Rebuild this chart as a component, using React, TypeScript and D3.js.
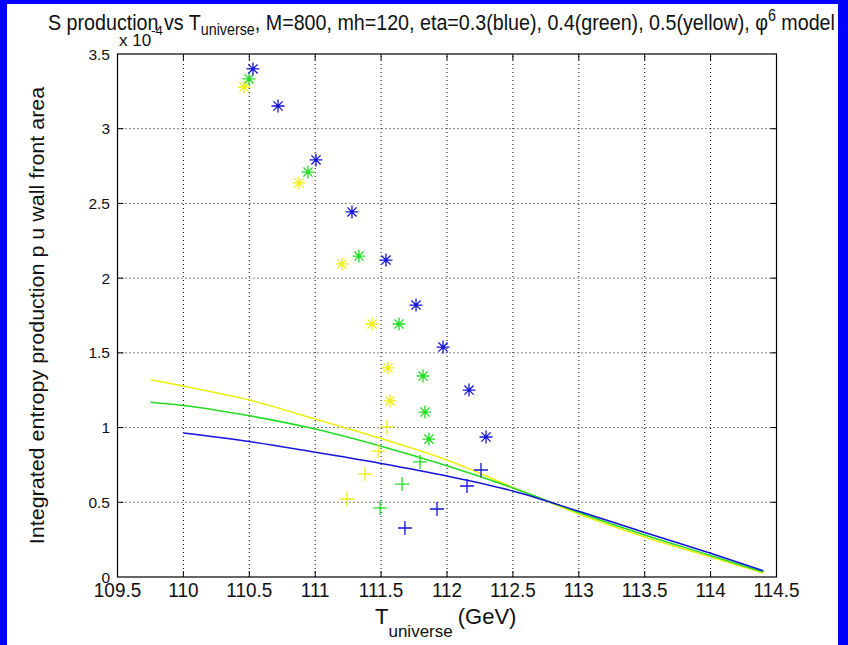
import React from "react";
import * as d3 from "d3";

const W = 848;
const H = 645;

const xTicks = [109.5, 110, 110.5, 111, 111.5, 112, 112.5, 113, 113.5, 114, 114.5];
const yTicks = [0, 0.5, 1, 1.5, 2, 2.5, 3, 3.5];
const xTickLabels = ["109.5", "110", "110.5", "111", "111.5", "112", "112.5", "113", "113.5", "114", "114.5"];
const yTickLabels = ["0", "0.5", "1", "1.5", "2", "2.5", "3", "3.5"];

// scatter points (x in GeV, y in units of 1e-4)
const blueStarX = [110.528, 110.718, 111.006, 111.279, 111.537, 111.765, 111.97, 112.167, 112.296];
const blueStarY = [3.4, 3.152, 2.791, 2.443, 2.121, 1.82, 1.539, 1.251, 0.937];
const bluePlusX = [112.258, 112.152, 111.924, 111.681];
const bluePlusY = [0.716, 0.609, 0.455, 0.328];

const greenStarX = [110.498, 110.945, 111.332, 111.636, 111.818, 111.833, 111.863];
const greenStarY = [3.333, 2.71, 2.148, 1.693, 1.345, 1.104, 0.923];
const greenPlusX = [111.795, 111.659, 111.492];
const greenPlusY = [0.77, 0.622, 0.462];

const yellowStarX = [110.46, 110.877, 111.203, 111.431, 111.552, 111.568];
const yellowStarY = [3.279, 2.637, 2.095, 1.693, 1.399, 1.178];
const yellowPlusX = [111.545, 111.477, 111.378, 111.241];
const yellowPlusY = [1.004, 0.843, 0.689, 0.522];

// curves
const blueLineX = [110, 110.5, 111, 111.5, 112, 112.5, 113, 113.5, 114, 114.4];
const blueLineY = [0.964, 0.907, 0.835, 0.76, 0.676, 0.576, 0.44, 0.298, 0.159, 0.042];
const greenLineX = [109.75, 110, 110.5, 111, 111.5, 112, 112.5, 113, 113.5, 114, 114.4];
const greenLineY = [1.17, 1.148, 1.079, 0.99, 0.875, 0.744, 0.596, 0.432, 0.281, 0.144, 0.033];
const yellowLineX = [109.75, 110, 110.5, 111, 111.5, 112, 112.5, 113, 113.5, 114, 114.4];
const yellowLineY = [1.32, 1.278, 1.184, 1.057, 0.927, 0.783, 0.6, 0.422, 0.268, 0.134, 0.027];

const BLUE = "#1414d8";
const GREEN = "#22dd22";
const YELLOW = "#eeee10";
const FONT = "'Liberation Sans', Arial, sans-serif";

const x = d3.scaleLinear().domain([109.5, 114.5]).range([117.5, 776.5]);
const y = d3.scaleLinear().domain([0, 3.5]).range([577, 54]);

const STAR = "M-6.5,0H6.5M0,-6.5V6.5M-4.6,-4.6L4.6,4.6M-4.6,4.6L4.6,-4.6";
const PLUS = "M-7,0H7M0,-7V7";

function zip(xs: number[], ys: number[]): [number, number][] {
  return xs.map((v, i) => [v, ys[i]]);
}

export default function App() {
  const line = d3
    .line<[number, number]>()
    .x((d) => x(d[0]))
    .y((d) => y(d[1]))
    .curve(d3.curveMonotoneX);

  const markers = (xs: number[], ys: number[], path: string, color: string, key: string) =>
    xs.map((v, i) => (
      <path
        key={key + i}
        d={path}
        transform={`translate(${x(v)},${y(ys[i])})`}
        stroke={color}
        strokeWidth={1.3}
        fill="none"
      />
    ));

  const [x0, x1] = x.range();
  const [y0, y1] = y.range();

  return (
    <svg width={W} height={H} style={{ position: "absolute", left: 0, top: 0 }} fontFamily={FONT}>
      <rect x={0} y={0} width={W} height={H} fill="#0000ff" />
      <rect x={7} y={4} width={831} height={H - 4} fill="#ffffff" />

      {/* grid */}
      {xTicks.slice(1, -1).map((t) => (
        <line key={"gx" + t} x1={x(t)} x2={x(t)} y1={y0} y2={y1} stroke="#000" strokeWidth={1} strokeDasharray="1,3" />
      ))}
      {yTicks.slice(1, -1).map((t) => (
        <line key={"gy" + t} x1={x0} x2={x1} y1={y(t)} y2={y(t)} stroke="#000" strokeWidth={1} strokeDasharray="1,3" />
      ))}

      {/* curves */}
      <path d={line(zip(yellowLineX, yellowLineY)) || ""} stroke={YELLOW} strokeWidth={1.5} fill="none" />
      <path d={line(zip(greenLineX, greenLineY)) || ""} stroke={GREEN} strokeWidth={1.5} fill="none" />
      <path d={line(zip(blueLineX, blueLineY)) || ""} stroke={BLUE} strokeWidth={1.5} fill="none" />

      {/* markers */}
      {markers(yellowStarX, yellowStarY, STAR, YELLOW, "ys")}
      {markers(yellowPlusX, yellowPlusY, PLUS, YELLOW, "yp")}
      {markers(greenStarX, greenStarY, STAR, GREEN, "gs")}
      {markers(greenPlusX, greenPlusY, PLUS, GREEN, "gp")}
      {markers(blueStarX, blueStarY, STAR, BLUE, "bs")}
      {markers(bluePlusX, bluePlusY, PLUS, BLUE, "bp")}

      {/* box */}
      <rect x={x0} y={y1} width={x1 - x0} height={y0 - y1} fill="none" stroke="#000" strokeWidth={1.2} />
      {xTicks.slice(1, -1).map((t) => (
        <g key={"tx" + t}>
          <line x1={x(t)} x2={x(t)} y1={y0} y2={y0 - 6} stroke="#000" />
          <line x1={x(t)} x2={x(t)} y1={y1} y2={y1 + 6} stroke="#000" />
        </g>
      ))}
      {yTicks.slice(1, -1).map((t) => (
        <g key={"ty" + t}>
          <line x1={x0} x2={x0 + 6} y1={y(t)} y2={y(t)} stroke="#000" />
          <line x1={x1} x2={x1 - 6} y1={y(t)} y2={y(t)} stroke="#000" />
        </g>
      ))}

      {/* tick labels */}
      {xTicks.map((t, i) => (
        <text
          key={"lx" + t}
          transform={`translate(${x(t)},597) scale(0.9,1)`}
          textAnchor="middle"
          fontSize={21}
          fill="#111"
        >
          {xTickLabels[i]}
        </text>
      ))}
      {yTicks.map((t, i) => (
        <text key={"ly" + t} x={110} y={y(t) + 5.5} textAnchor="end" fontSize={15.5} fill="#111">
          {yTickLabels[i]}
        </text>
      ))}

      {/* exponent */}
      <text x={119} y={46} fontSize={17} fill="#111">
        x 10
        <tspan dy={-11} fontSize={13}>-4</tspan>
      </text>

      {/* title */}
      <text transform="translate(48,30) scale(0.895,1)" fontSize={22} fill="#111">
        S production vs T
        <tspan dy={5} fontSize={16}>universe</tspan>
        <tspan dy={-5}>, M=800, mh=120, eta=0.3(blue), 0.4(green), 0.5(yellow), φ</tspan>
        <tspan dy={-9} fontSize={16}>6</tspan>
        <tspan dy={9}> model</tspan>
      </text>

      {/* x label */}
      <text x={375} y={624} fontSize={22} fill="#111">
        T
        <tspan dy={13} fontSize={17}>universe</tspan>
        <tspan dy={-13} dx={5}>(GeV)</tspan>
      </text>

      {/* y label */}
      <text
        transform={`translate(44,${(y0 + y1) / 2}) rotate(-90) scale(1,0.9)`}
        textAnchor="middle"
        fontSize={21.5}
        fill="#111"
      >
        Integrated entropy production p u wall front area
      </text>
    </svg>
  );
}
